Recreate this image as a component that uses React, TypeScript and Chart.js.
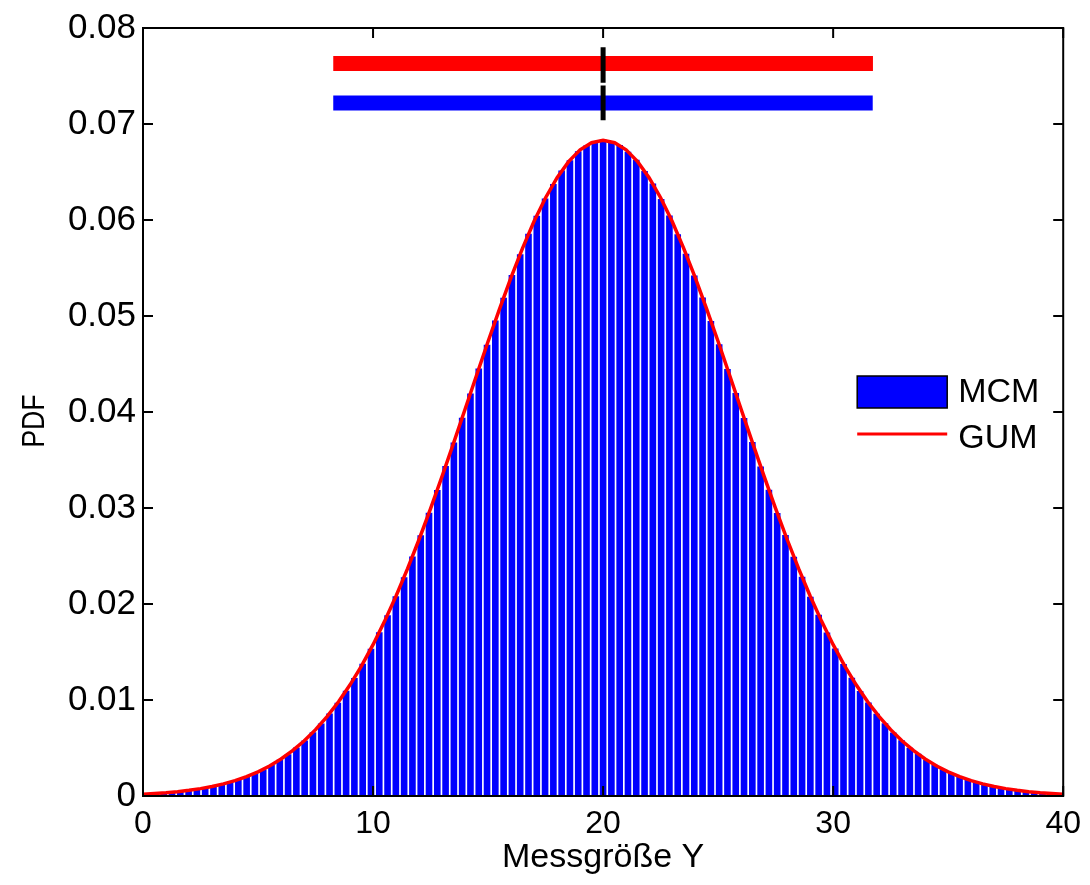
import React, { useEffect, useRef } from 'react';
import { Chart, registerables } from 'chart.js';

Chart.register(...registerables);

// Axis range and ticks
const X_MIN = 0;
const X_MAX = 40;
const X_TICKS = [0, 10, 20, 30, 40];
const Y_MIN = 0;
const Y_MAX = 0.08;
const Y_TICKS = [0, 0.01, 0.02, 0.03, 0.04, 0.05, 0.06, 0.07, 0.08];
const Y_TICK_LABELS = ['0', '0.01', '0.02', '0.03', '0.04', '0.05', '0.06', '0.07', '0.08'];

// MCM histogram (PDF per bin, bins evenly spanning X_MIN..X_MAX)
const MCM_PDF = [
  0.00021, 0.00027, 0.00033, 0.0004, 0.00048, 0.00058, 0.00071, 0.00085, 0.00101, 0.00122,
  0.00144, 0.00171, 0.00201, 0.00238, 0.00277, 0.00324, 0.00378, 0.00436, 0.00505, 0.00578,
  0.00664, 0.00755, 0.0086, 0.00971, 0.01097, 0.01229, 0.01378, 0.01533, 0.01706, 0.01883,
  0.0208, 0.02279, 0.02496, 0.02716, 0.02951, 0.03187, 0.03437, 0.03683, 0.03941, 0.04193,
  0.04452, 0.04701, 0.04953, 0.0519, 0.05426, 0.05644, 0.05856, 0.06044, 0.06224, 0.06376,
  0.06515, 0.06623, 0.06716, 0.06776, 0.06819, 0.06838, 0.06815, 0.0678, 0.06712, 0.06627,
  0.06511, 0.0638, 0.0622, 0.06048, 0.05852, 0.05648, 0.05422, 0.05194, 0.04949, 0.04705,
  0.04448, 0.04197, 0.03937, 0.03687, 0.03433, 0.03191, 0.02947, 0.0272, 0.02492, 0.02283,
  0.02076, 0.01887, 0.01702, 0.01537, 0.01375, 0.01233, 0.01094, 0.00974, 0.00857, 0.00758,
  0.00661, 0.00581, 0.00502, 0.00439, 0.00376, 0.00326, 0.00279, 0.00236, 0.00203, 0.0017,
  0.00146, 0.00121, 0.00103, 0.00084, 0.00072, 0.00058, 0.00049, 0.00039, 0.00034, 0.00026,
  0.00022,
];

// GUM curve, sampled every GUM_STEP from X_MIN
const GUM_STEP = 0.5;
const GUM_PDF = [
  0.00019, 0.00026, 0.00034, 0.00045, 0.00059, 0.00077, 0.00099, 0.00126, 0.0016, 0.00202,
  0.00252, 0.00313, 0.00386, 0.00472, 0.00573, 0.00691, 0.00827, 0.00982, 0.01158, 0.01356,
  0.01576, 0.01819, 0.02083, 0.02368, 0.02672, 0.02994, 0.0333, 0.03676, 0.04029, 0.04383,
  0.04734, 0.05075, 0.05402, 0.05707, 0.05986, 0.06232, 0.06441, 0.06608, 0.06731, 0.06805,
  0.0683,
  0.06805, 0.06731, 0.06608, 0.06441, 0.06232, 0.05986, 0.05707, 0.05402, 0.05075, 0.04734,
  0.04383, 0.04029, 0.03676, 0.0333, 0.02994, 0.02672, 0.02368, 0.02083, 0.01819, 0.01576,
  0.01356, 0.01158, 0.00982, 0.00827, 0.00691, 0.00573, 0.00472, 0.00386, 0.00313, 0.00252,
  0.00202, 0.0016, 0.00126, 0.00099, 0.00077, 0.00059, 0.00045, 0.00034, 0.00026, 0.00019,
];

// Coverage intervals and estimate
const GUM_INTERVAL = [8.27, 31.73];
const GUM_INTERVAL_Y = 0.0763;
const MCM_INTERVAL = [8.27, 31.72];
const MCM_INTERVAL_Y = 0.0722;
const ESTIMATE = 20;
const ESTIMATE_GUM_SPAN = [0.0743, 0.078];
const ESTIMATE_MCM_SPAN = [0.0704, 0.074];

const LEGEND_LABELS = ['MCM', 'GUM'];
const X_TITLE = 'Messgröße Y';
const Y_TITLE = 'PDF';

const FONT = '"Liberation Sans", Arial, Helvetica, sans-serif';

const framePlugin = {
  id: 'matlabFrame',
  afterDraw(chart: any) {
    const { ctx, chartArea: a, scales } = chart;
    const xs = scales.x;
    const ys = scales.y;
    ctx.save();
    ctx.strokeStyle = '#000';
    ctx.lineWidth = 2;
    ctx.strokeRect(a.left, a.top, a.right - a.left, a.bottom - a.top);
    const L = 10;
    ctx.beginPath();
    X_TICKS.forEach((v) => {
      const px = xs.getPixelForValue(v);
      ctx.moveTo(px, a.bottom);
      ctx.lineTo(px, a.bottom - L);
      ctx.moveTo(px, a.top);
      ctx.lineTo(px, a.top + L);
    });
    Y_TICKS.forEach((v) => {
      const py = ys.getPixelForValue(v);
      ctx.moveTo(a.left, py);
      ctx.lineTo(a.left + L, py);
      ctx.moveTo(a.right, py);
      ctx.lineTo(a.right - L, py);
    });
    ctx.stroke();

    // y-axis title
    ctx.save();
    ctx.translate(35, (a.top + a.bottom) / 2 + 9);
    ctx.rotate(-Math.PI / 2);
    ctx.scale(0.86, 1);
    ctx.fillStyle = '#000';
    ctx.font = `31px ${FONT}`;
    ctx.textAlign = 'center';
    ctx.textBaseline = 'middle';
    ctx.fillText(Y_TITLE, 0, 0);
    ctx.restore();

    // legend
    const lx = a.right - 206;
    const ly = a.top + 348;
    ctx.fillStyle = '#0000ff';
    ctx.fillRect(lx, ly, 90, 32);
    ctx.lineWidth = 1.5;
    ctx.strokeStyle = '#000';
    ctx.strokeRect(lx, ly, 90, 32);
    ctx.strokeStyle = '#ff0000';
    ctx.lineWidth = 3;
    ctx.beginPath();
    ctx.moveTo(lx, ly + 58);
    ctx.lineTo(lx + 90, ly + 58);
    ctx.stroke();
    ctx.fillStyle = '#000';
    ctx.font = `34px ${FONT}`;
    ctx.textAlign = 'left';
    ctx.textBaseline = 'middle';
    ctx.fillText(LEGEND_LABELS[0], lx + 101, ly + 17);
    ctx.fillText(LEGEND_LABELS[1], lx + 101, ly + 63);
    ctx.restore();
  },
};

export default function App() {
  const ref = useRef<HTMLCanvasElement | null>(null);
  useEffect(() => {
    if (!ref.current) return;
    const binW = (X_MAX - X_MIN) / MCM_PDF.length;
    const bars = MCM_PDF.map((v, i) => ({ x: X_MIN + (i + 0.5) * binW, y: v }));
    const curve = GUM_PDF.map((v, i) => ({ x: X_MIN + i * GUM_STEP, y: v }));
    const chart = new Chart(ref.current, {
      type: 'bar',
      data: {
        datasets: [
          {
            type: 'line',
            label: 'GUM interval',
            data: [
              { x: GUM_INTERVAL[0], y: GUM_INTERVAL_Y },
              { x: GUM_INTERVAL[1], y: GUM_INTERVAL_Y },
            ],
            borderColor: '#ff0000',
            borderWidth: 15,
            borderCapStyle: 'butt',
            pointRadius: 0,
            order: 2,
          } as any,
          {
            type: 'line',
            label: 'MCM interval',
            data: [
              { x: MCM_INTERVAL[0], y: MCM_INTERVAL_Y },
              { x: MCM_INTERVAL[1], y: MCM_INTERVAL_Y },
            ],
            borderColor: '#0000ff',
            borderWidth: 15,
            borderCapStyle: 'butt',
            pointRadius: 0,
            order: 2,
          } as any,
          {
            type: 'line',
            label: 'estimate GUM',
            data: [
              { x: ESTIMATE, y: ESTIMATE_GUM_SPAN[0] },
              { x: ESTIMATE, y: ESTIMATE_GUM_SPAN[1] },
            ],
            borderColor: '#000',
            borderWidth: 5,
            borderCapStyle: 'butt',
            pointRadius: 0,
            order: 1,
          } as any,
          {
            type: 'line',
            label: 'estimate MCM',
            data: [
              { x: ESTIMATE, y: ESTIMATE_MCM_SPAN[0] },
              { x: ESTIMATE, y: ESTIMATE_MCM_SPAN[1] },
            ],
            borderColor: '#000',
            borderWidth: 5,
            borderCapStyle: 'butt',
            pointRadius: 0,
            order: 1,
          } as any,
          {
            type: 'line',
            label: LEGEND_LABELS[1],
            data: curve,
            borderColor: '#ff0000',
            borderWidth: 3.5,
            pointRadius: 0,
            tension: 0,
            order: 3,
          } as any,
          {
            type: 'bar',
            label: LEGEND_LABELS[0],
            data: bars,
            backgroundColor: '#0000ff',
            borderWidth: 0,
            barPercentage: 0.8,
            categoryPercentage: 1,
            order: 4,
          } as any,
        ],
      },
      options: {
        responsive: false,
        animation: false,
        layout: { padding: { left: 0, top: 25, right: 21, bottom: 0 } },
        plugins: {
          legend: { display: false },
          tooltip: { enabled: false },
        },
        scales: {
          x: {
            type: 'linear',
            min: X_MIN,
            max: X_MAX,
            offset: false,
            afterFit(s: any) {
              s.height = 89;
            },
            afterBuildTicks(s: any) {
              s.ticks = X_TICKS.map((v) => ({ value: v }));
            },
            grid: { display: false, drawTicks: false },
            border: { display: false },
            ticks: {
              color: '#000',
              padding: 9,
              maxRotation: 0,
              autoSkip: false,
              font: { family: FONT, size: 32 },
              callback: (v: any) => String(v),
            },
            title: {
              display: true,
              text: X_TITLE,
              color: '#000',
              font: { family: FONT, size: 34 },
              padding: { top: 0, bottom: 7 },
            },
          },
          y: {
            type: 'linear',
            min: Y_MIN,
            max: Y_MAX,
            afterFit(s: any) {
              s.width = 143;
            },
            afterBuildTicks(s: any) {
              s.ticks = Y_TICKS.map((v) => ({ value: v }));
            },
            grid: { display: false, drawTicks: false },
            border: { display: false },
            ticks: {
              color: '#000',
              padding: 7,
              autoSkip: false,
              font: { family: FONT, size: 35 },
              callback: (v: any, i: number) => Y_TICK_LABELS[i],
            },
            title: { display: false, text: Y_TITLE },
          },
        },
      },
      plugins: [framePlugin],
    });
    return () => chart.destroy();
  }, []);
  return (
    <div style={{ position: 'fixed', left: 0, top: 0, width: 1090, height: 885, background: '#fff' }}>
      <canvas ref={ref} width={1090} height={885} style={{ display: 'block' }} />
    </div>
  );
}
